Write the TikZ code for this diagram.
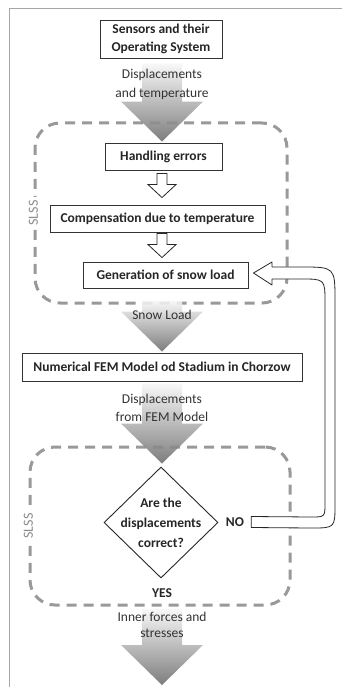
\documentclass[tikz,border=0pt]{standalone}
\usepackage{fontspec}
\setmainfont{Carlito}
\usetikzlibrary{calc,shapes.geometric}
\tikzset{
 box/.style={draw=black!80, fill=white, line width=0.9pt, font=\fontsize{13.5}{18.5}\selectfont\bfseries, text=black!85, align=center, inner sep=0pt},
 lbl/.style={font=\fontsize{13.5}{19}\selectfont, text=black!80, align=center, inner sep=0pt},
 blbl/.style={font=\fontsize{13.5}{20}\selectfont\bfseries, text=black!85, align=center, inner sep=0pt},
 group/.style={draw=black!40, line width=3pt, dash pattern=on 10pt off 7pt, rounded corners=25pt, inner sep=0pt},
 slss/.style={font=\fontsize{14}{15}\selectfont, text=black!45, fill=white, rotate=90, inner sep=3pt},
 bigarr/.style={top color=black!3, bottom color=black!58, fill opacity=0.88},
 hollow/.style={draw=black!85, fill=white, line width=0.8pt, line join=miter},
 frame/.style={draw=black!35, line width=0.8pt},
}
\newcommand{\bigarrow}[2]{\shade[bigarr] ($(#1)+(-20,0)$) -- ($(#1)+(20,0)$) -- ($(#2)+(20,-40)$) -- ($(#2)+(41,-40)$) -- (#2) -- ($(#2)+(-41,-40)$) -- ($(#2)+(-20,-40)$) -- cycle;}
\newcommand{\hollowarrow}[2]{\draw[hollow] ($(#1)+(-5,0)$) -- ($(#1)+(5,0)$) -- ($(#2)+(5,-13)$) -- ($(#2)+(14,-13)$) -- (#2) -- ($(#2)+(-14,-13)$) -- ($(#2)+(-5,-13)$) -- cycle;}
\begin{document}
\begin{tikzpicture}[x=1pt,y=-1pt]
\useasboundingbox (0,0) rectangle (342,687);
\draw[frame] (342,8) -- (9,8) -- (9,687);

% groups
\node[group, minimum width=252pt, minimum height=180pt] (g1) at (161,213) {};
\node[group, minimum width=260pt, minimum height=158pt] (g2) at (160,526) {};
\node[slss] (s1) at (g1.west) {SLSS};
\node[slss] (s2) at (g2.west) {SLSS};

% boxes
\node[box, minimum width=122pt, minimum height=38pt] (sensors) at (161,39) {Sensors and their\\Operating System};
\node[box, minimum width=117pt, minimum height=27pt] (handling) at (163.5,156.5) {Handling errors};
\node[box, minimum width=215pt, minimum height=27pt] (comp) at (157.5,218.5) {Compensation due to temperature};
\node[box, minimum width=165pt, minimum height=26pt] (gen) at (165.5,275) {Generation of snow load};
\node[box, minimum width=280pt, minimum height=28pt] (fem) at (162,367) {Numerical FEM Model od Stadium in Chorzow};
\node[draw=black!85, fill=white, line width=0.9pt, shape=diamond, minimum width=114pt, minimum height=111pt, inner sep=0pt] (dec) at (161,522.5) {};
\node[blbl] (dectext) at (dec.center) {Are the\\displacements\\correct?};

% big arrows
\coordinate (a1s) at ($(sensors.south)+(1,5)$);
\coordinate (a1t) at ($(handling.north)+(-1.5,-1)$);
\coordinate (a2s) at ($(g1.south)+(1,-4)$);
\coordinate (a2t) at ($(fem.north)+(0,-1)$);
\coordinate (a3s) at ($(fem.south)+(0,2)$);
\coordinate (a3t) at ($(dec.north)+(1,-3)$);
\coordinate (a4s) at ($(g2.south)+(2,2)$);
\coordinate (a4t) at (162,685);
\bigarrow{a1s}{a1t}
\bigarrow{a2s}{a2t}
\bigarrow{a3s}{a3t}
\bigarrow{a4s}{a4t}

% labels
\node[lbl] (l1) at (162,84) {Displacements\\and temperature};
\node[lbl] (l2) at (162,315) {Snow Load};
\node[lbl, font=\fontsize{13.5}{18}\selectfont] (l3) at (162,408) {Displacements\\from FEM Model};
\node[lbl, font=\fontsize{13.5}{16.5}\selectfont] (l4) at (162,625) {Inner forces and\\stresses};
\node[blbl] (yes) at (162,593) {YES};
\node[blbl] (no) at (235,522) {NO};

% hollow arrows
\coordinate (h1s) at ($(handling.south)+(-1.5,3)$);
\coordinate (h1t) at ($(comp.north)+(4.5,-7)$);
\coordinate (h2s) at ($(comp.south)+(4.5,1)$);
\coordinate (h2t) at ($(gen.north)+(-3.5,-4)$);
\hollowarrow{h1s}{h1t}
\hollowarrow{h2s}{h2t}

% loop back arrow NO -> generation of snow load
\coordinate (lt) at ($(no.east)+(7,0)$);
\coordinate (lh) at ($(gen.east)+(5,-2)$);
\draw[hollow, line join=round] ($(lt)+(0,-5.5)$) -- (311,517) .. controls (325,517) .. (325,503) -- (325,303) .. controls (325,279) .. (301,279) -- (272,279) -- (272,285) -- (lh) -- (272,262) -- (272,267) -- (301,267) .. controls (335,267) .. (335,301) -- (335,504) .. controls (335,528) .. (311,528) -- ($(lt)+(0,5.5)$) -- cycle;
\end{tikzpicture}
\end{document}
